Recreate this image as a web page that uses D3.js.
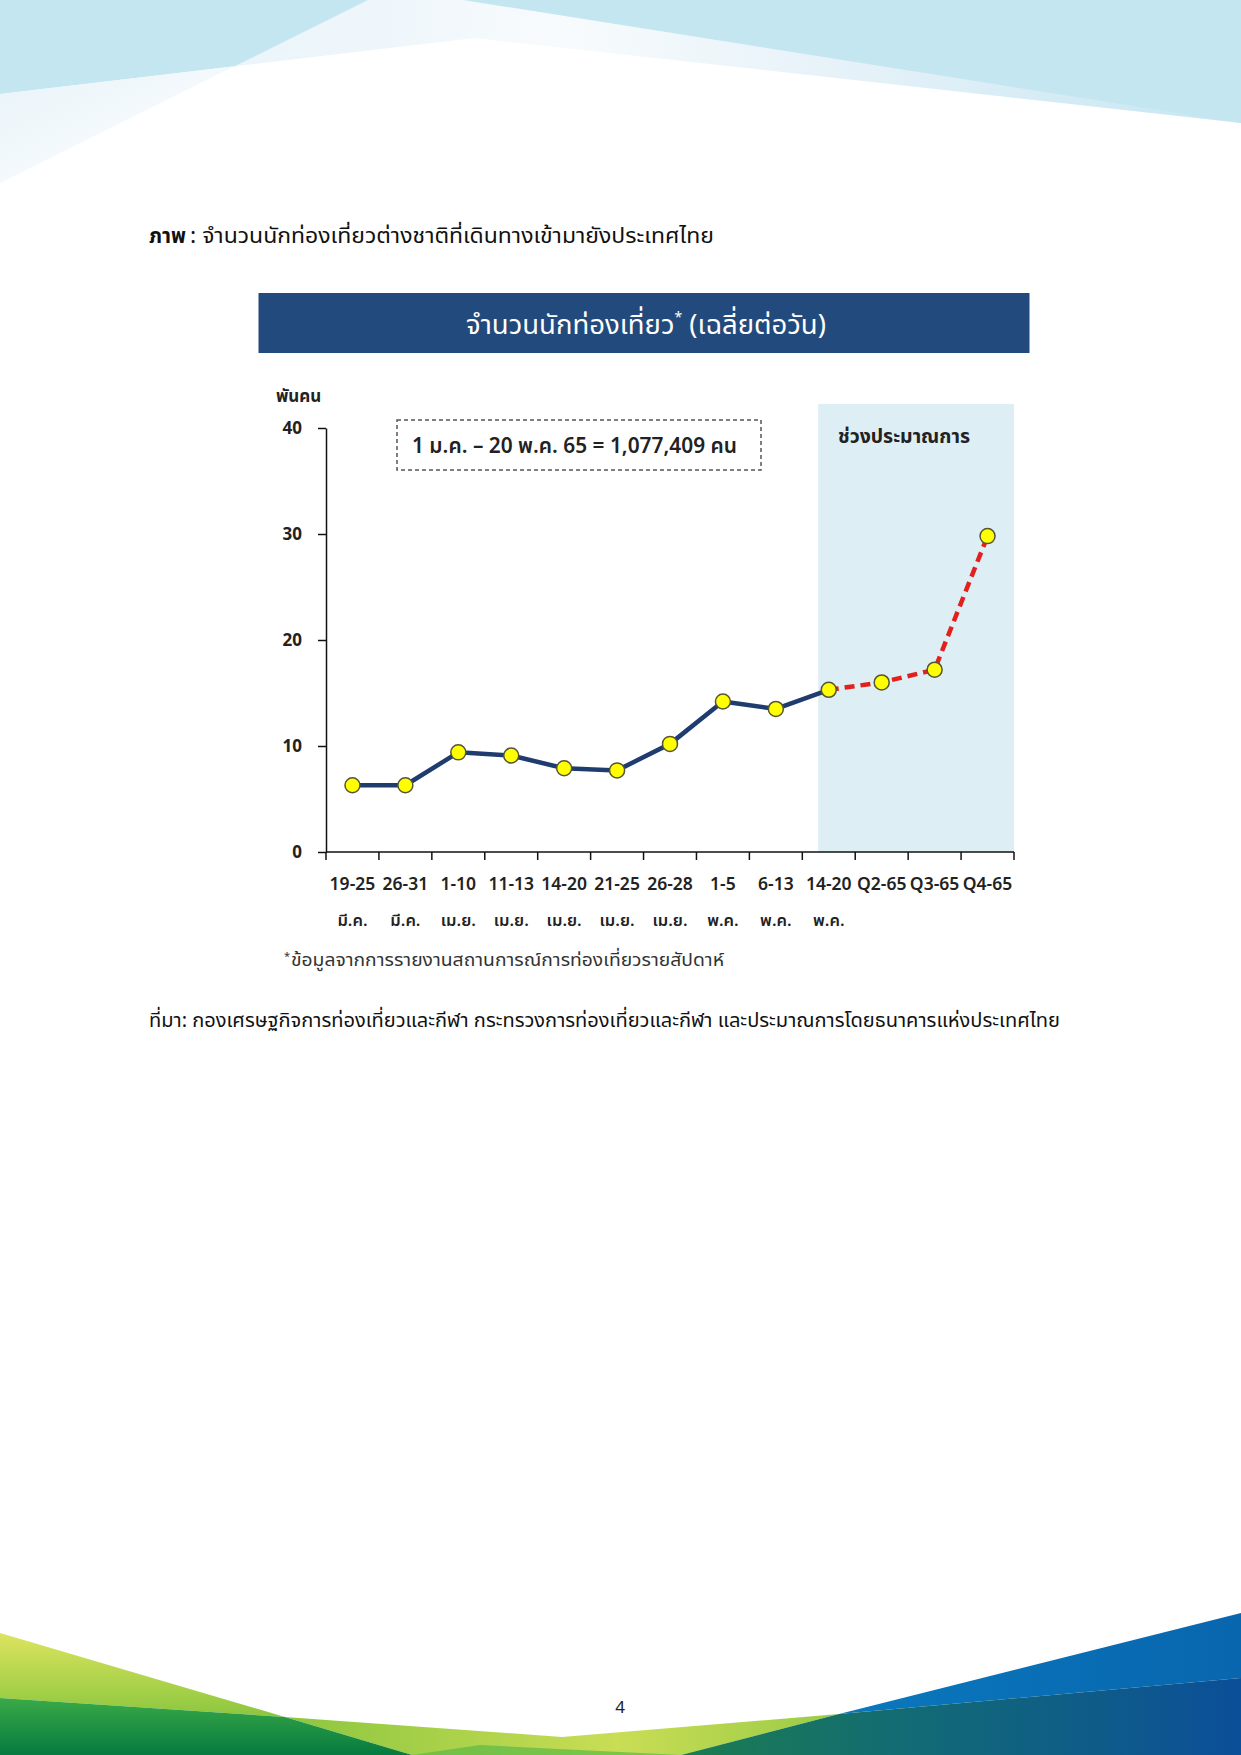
<!DOCTYPE html>
<html><head><meta charset="utf-8">
<script src="https://cdn.jsdelivr.net/npm/d3@7"></script>
<style>
html,body{margin:0;padding:0;background:#fff;}
svg{display:block;}
</style></head>
<body>
<script>
// ---- data ----
const rangeLabels = ["19-25","26-31","1-10","11-13","14-20","21-25","26-28","1-5","6-13","14-20","Q2-65","Q3-65","Q4-65"];
const monthLabels = ["มี.ค.","มี.ค.","เม.ย.","เม.ย.","เม.ย.","เม.ย.","เม.ย.","พ.ค.","พ.ค.","พ.ค.","","",""];
const actualValues = [6.3, 6.3, 9.4, 9.1, 7.9, 7.7, 10.2, 14.2, 13.5, 15.3];
const forecastValues = [15.3, 16.0, 17.2, 29.8]; // starts at index 9
const forecastStart = 9;
const yTicks = [0, 10, 20, 30, 40];

const W = 1241, H = 1755;
const FONT = "Tahoma, 'Noto Sans Thai', 'Noto Sans', 'DejaVu Sans', sans-serif";

const svg = d3.select("body").append("svg").attr("width", W).attr("height", H);
const defs = svg.append("defs");
function lin(id, x1,y1,x2,y2, stops){
  const g = defs.append("linearGradient").attr("id", id)
    .attr("x1",x1).attr("y1",y1).attr("x2",x2).attr("y2",y2);
  stops.forEach(s => g.append("stop").attr("offset", s[0]).attr("stop-color", s[1]));
}
// ---- top decoration ----
lin("gTopBand","0","0","1","0",[["0","#e6f2f9"],["0.3","#eef6fb"],["0.45","#f8fbfd"],["0.7","#e4f1f8"],["1","#c6e6f2"]]);
lin("gTopLow","0","0","1","1",[["0","#e8f3f9"],["1","#ffffff"]]);
const deco = svg.append("g");
deco.append("polygon").attr("points","0,0 1241,0 1241,123 475,38 234.6,66.3 0,94").attr("fill","url(#gTopBand)");
deco.append("polygon").attr("points","0,0 368,0 234.6,66.3 0,94").attr("fill","#c4e6f1");
deco.append("polygon").attr("points","0,94 234.6,66.3 0,183").attr("fill","url(#gTopLow)");
deco.append("polygon").attr("points","463,0 1241,0 1241,123").attr("fill","#c4e6f1");

// ---- bottom decoration ----
lin("gLeftUp","0","0","0","1",[["0","#dde45e"],["1","#8cc63f"]]);
lin("gLeftLow","0","0","0","1",[["0","#3aaa47"],["1","#067a40"]]);
lin("gMid2","0","0","1","0",[["0","#8cc63f"],["0.6","#c9dd55"],["1","#9acb45"]]);
lin("gRightUp","0","0","1","0",[["0","#0a78bd"],["1","#0866ae"]]);
lin("gRightLow","0","0","1","0",[["0","#1b7d4f"],["0.4","#126b74"],["1","#0b4f99"]]);
deco.append("polygon").attr("points","285,1717 562,1737 839,1714 681,1755 412,1755").attr("fill","url(#gMid2)");
deco.append("polygon").attr("points","480,1745 681,1755 412,1755").attr("fill","#5cb947").attr("opacity",0.7);
deco.append("polygon").attr("points","0,1633 285,1717 0,1698").attr("fill","url(#gLeftUp)");
deco.append("polygon").attr("points","0,1698 285,1717 412,1755 0,1755").attr("fill","url(#gLeftLow)");
deco.append("polygon").attr("points","1241,1613 1241,1678 839,1714").attr("fill","url(#gRightUp)");
deco.append("polygon").attr("points","839,1714 1241,1678 1241,1755 681,1755").attr("fill","url(#gRightLow)");

// ---- caption ----
svg.append("text").attr("x",149).attr("y",243).attr("font-family",FONT).attr("font-size",21).attr("font-weight","bold").attr("fill","#111")
  .attr("textLength",37).attr("lengthAdjust","spacingAndGlyphs").text("ภาพ");
svg.append("text").attr("x",190).attr("y",243).attr("font-family",FONT).attr("font-size",21).attr("fill","#111")
  .attr("textLength",524).attr("lengthAdjust","spacingAndGlyphs")
  .text(": จำนวนนักท่องเที่ยวต่างชาติที่เดินทางเข้ามายังประเทศไทย");

// ---- chart ----
const x = d3.scaleBand().domain(d3.range(rangeLabels.length)).range([326, 1014]).paddingInner(0).paddingOuter(0);
const y = d3.scaleLinear().domain([0, 40]).range([852, 428]);
const bw = x.bandwidth();
const cx = i => x(i) + bw/2;

// title bar
svg.append("rect").attr("x",258.5).attr("y",293).attr("width",771).attr("height",60).attr("fill","#234a7c");
const tt = svg.append("text").attr("x",646).attr("y",334).attr("text-anchor","middle")
  .attr("font-family",FONT).attr("font-size",27.5).attr("fill","#fff");
tt.append("tspan").text("จำนวนนักท่องเที่ยว");
tt.append("tspan").attr("font-size",14).attr("dy",-12).text("*");
tt.append("tspan").attr("dy",12).text(" (เฉลี่ยต่อวัน)");

// forecast shading
const shadeX0 = x(forecastStart) + bw*0.3;
svg.append("rect")
  .attr("x", shadeX0).attr("y", y(40) - 24)
  .attr("width", x.range()[1] - shadeX0)
  .attr("height", y(0) - (y(40) - 24))
  .attr("fill","#deeef5");
svg.append("text").attr("x", 838).attr("y", 443)
  .attr("font-family",FONT).attr("font-size",19).attr("font-weight","bold").attr("fill","#222")
  .attr("textLength",132).attr("lengthAdjust","spacingAndGlyphs")
  .text("ช่วงประมาณการ");

// y axis
const yAxis = d3.axisLeft(y).tickValues(yTicks).tickSize(8).tickSizeOuter(0).tickPadding(16).tickFormat(d3.format("d"));
const ya = svg.append("g").attr("transform","translate(326,0)").call(yAxis);
ya.select(".domain").attr("stroke","#111").attr("stroke-width",1.5);
ya.selectAll(".tick line").attr("stroke","#111").attr("stroke-width",1.5);
ya.selectAll(".tick text").attr("font-family",FONT).attr("font-size",17).attr("font-weight","bold").attr("fill","#222");

svg.append("text").attr("x",276).attr("y",402).attr("font-family",FONT).attr("font-size",17).attr("font-weight","bold").attr("fill","#222").text("พันคน");

// x axis
const xa = svg.append("g");
xa.append("line").attr("x1",x.range()[0]).attr("x2",x.range()[1]).attr("y1",y(0)).attr("y2",y(0)).attr("stroke","#111").attr("stroke-width",1.5);
const bounds = d3.range(rangeLabels.length).map(i => x(i)).concat([x.range()[1]]);
xa.selectAll("line.tk").data(bounds).join("line").attr("class","tk")
  .attr("x1",d=>d).attr("x2",d=>d).attr("y1",y(0)).attr("y2",y(0)+8).attr("stroke","#111").attr("stroke-width",1.5);
xa.selectAll("text.r1").data(rangeLabels).join("text").attr("class","r1")
  .attr("x",(d,i)=>cx(i)).attr("y",890).attr("text-anchor","middle")
  .attr("font-family",FONT).attr("font-size",17.5).attr("font-weight",600).attr("fill","#222").text(d=>d);
xa.selectAll("text.r2").data(monthLabels).join("text").attr("class","r2")
  .attr("x",(d,i)=>cx(i)).attr("y",926).attr("text-anchor","middle")
  .attr("font-family",FONT).attr("font-size",16.5).attr("font-weight",600).attr("fill","#222").text(d=>d);

// annotation box
svg.append("rect").attr("x",397).attr("y",420).attr("width",364).attr("height",50)
  .attr("fill","none").attr("stroke","#555").attr("stroke-width",1.5).attr("stroke-dasharray","4,3");
svg.append("text").attr("x",412).attr("y",453).attr("font-family",FONT).attr("font-size",21).attr("font-weight",600).attr("fill","#222")
  .attr("textLength",325).attr("lengthAdjust","spacingAndGlyphs")
  .text("1 ม.ค. – 20 พ.ค. 65 = 1,077,409  คน");

// lines
const line = d3.line().x(d=>cx(d.i)).y(d=>y(d.v));
const act = actualValues.map((v,i)=>({i, v}));
const fc = forecastValues.map((v,k)=>({i: forecastStart + k, v}));
svg.append("path").datum(act).attr("d",line).attr("fill","none").attr("stroke","#1f3c6e").attr("stroke-width",4.5).attr("stroke-linejoin","round");
svg.append("path").datum(fc).attr("d",line).attr("fill","none").attr("stroke","#e3201c").attr("stroke-width",4.5).attr("stroke-dasharray","10,6");
const pts = act.concat(fc.slice(1));
svg.selectAll("circle.pt").data(pts).join("circle").attr("class","pt")
  .attr("cx",d=>cx(d.i)).attr("cy",d=>y(d.v)).attr("r",7.5)
  .attr("fill","#ffff00").attr("stroke","#555533").attr("stroke-width",1.5);

// footnote
svg.append("text").attr("x",284).attr("y",960).attr("font-family",FONT).attr("font-size",11).attr("fill","#333").text("*");
svg.append("text").attr("x",291).attr("y",966).attr("font-family",FONT).attr("font-size",18).attr("fill","#333")
  .attr("textLength",433).attr("lengthAdjust","spacingAndGlyphs")
  .text("ข้อมูลจากการรายงานสถานการณ์การท่องเที่ยวรายสัปดาห์");

// source
svg.append("text").attr("x",149).attr("y",1027).attr("font-family",FONT).attr("font-size",20).attr("fill","#111")
  .attr("textLength",911).attr("lengthAdjust","spacingAndGlyphs")
  .text("ที่มา: กองเศรษฐกิจการท่องเที่ยวและกีฬา กระทรวงการท่องเที่ยวและกีฬา และประมาณการโดยธนาคารแห่งประเทศไทย");

// page number
svg.append("text").attr("x",620).attr("y",1713).attr("text-anchor","middle").attr("font-family",FONT).attr("font-size",17).attr("fill","#222").text("4");
</script>
</body></html>
